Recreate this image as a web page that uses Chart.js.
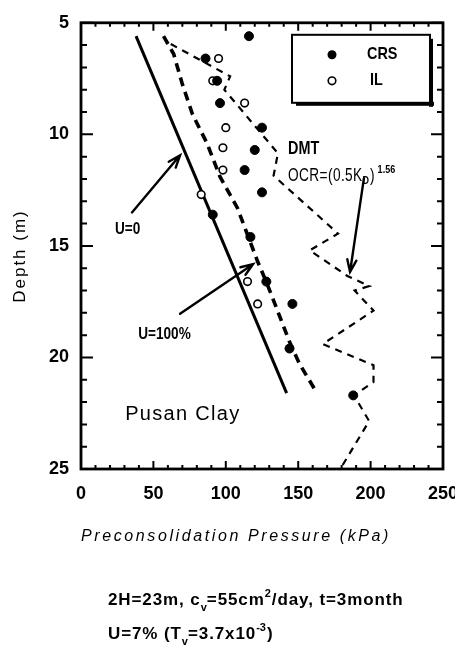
<!DOCTYPE html>
<html>
<head>
<meta charset="utf-8">
<script src="https://cdn.jsdelivr.net/npm/chart.js@4.4.1/dist/chart.umd.min.js"></script>
<style>
html,body{margin:0;padding:0;background:#fff}
#wrap{width:455px;height:648px}
</style>
</head>
<body>
<div id="wrap"><canvas id="c" width="455" height="648"></canvas></div>
<script>
// test results (depth in m, preconsolidation pressure in kPa)
var crsDepth = [5.6, 6.6, 7.6, 8.6, 9.7, 10.7, 11.6, 12.6, 13.6, 14.6, 16.6, 17.6, 19.6, 21.7];
var crsPc    = [116, 86, 94, 96, 125, 120, 113, 125, 91, 117, 128, 146, 144, 188];
var ilDepth  = [6.6, 7.6, 8.6, 9.7, 10.6, 11.6, 12.7, 16.6, 17.6];
var ilPc     = [95, 91, 113, 100, 98, 98, 83, 115, 122];

// U=0 and U=100% lines
var u0Depth = [5.6, 21.6];
var u0Pc    = [38, 142];
var u100Depth = [5.6, 6.4, 7.75, 9.1, 10.4, 11.9, 13.3, 14.5, 15.7, 16.7, 17.95, 19.3, 20.3, 21.6];
var u100Pc    = [57, 64, 70, 77, 87, 96, 108, 115, 122, 128.5, 136, 144, 151, 163];

// DMT, OCR=(0.5Kd)^1.56
var dmtDepth = [5.95, 7.4, 8.0, 10.85, 11.85, 14.45, 15.2, 16.35, 16.8, 17.0, 17.9, 19.4, 20.35, 21.1, 21.7, 22.85, 24.9];
var dmtPc    = [62, 103, 99, 136, 133, 177.5, 158, 184, 199, 189, 202, 167, 202, 202, 188.5, 199, 180];

var xTicks = [0, 50, 100, 150, 200, 250];
var yTicks = [5, 10, 15, 20, 25];

var FONT = '"Liberation Sans", Arial, sans-serif';

function pts(xs, ys){
	var out = [];
	for (var i=0;i<xs.length;i++) out.push({x:xs[i], y:ys[i]});
	return out;
}

function txt(ctx, s, x, y, size, opt){
	opt = opt || {};
	ctx.save();
	ctx.font = (opt.style||'') + ' ' + (opt.weight||'bold') + ' ' + size + 'px ' + FONT;
	ctx.letterSpacing = (opt.ls||0) + 'px';
	ctx.fillStyle = '#000';
	ctx.textBaseline = 'middle';
	ctx.textAlign = 'left';
	var sx = opt.sx || 1;
	ctx.translate(x, y);
	ctx.scale(sx, 1);
	ctx.fillText(s, 0, 0);
	var w = ctx.measureText(s).width * sx;
	ctx.restore();
	return x + w;
}

function arrow(ctx, x1, y1, x2, y2){
	var a = Math.atan2(y2-y1, x2-x1), L = 13, s = 0.36;
	ctx.save();
	ctx.strokeStyle = '#000';
	ctx.lineWidth = 2.4;
	ctx.lineCap = 'round';
	ctx.beginPath();
	ctx.moveTo(x1, y1); ctx.lineTo(x2, y2);
	ctx.moveTo(x2 - L*Math.cos(a-s), y2 - L*Math.sin(a-s));
	ctx.lineTo(x2, y2);
	ctx.lineTo(x2 - L*Math.cos(a+s), y2 - L*Math.sin(a+s));
	ctx.stroke();
	ctx.restore();
}

var decor = {
	id: 'decor',
	afterDraw: function(chart){
		var ctx = chart.ctx, ca = chart.chartArea;
		var X = chart.scales.x, Y = chart.scales.y;
		function px(v){ return X.getPixelForValue(v); }
		function py(v){ return Y.getPixelForValue(v); }

		ctx.save();
		ctx.strokeStyle = '#000';
		// inward ticks on all four sides
		ctx.lineWidth = 2;
		ctx.beginPath();
		for (var v=0; v<=250; v+=10){
			var l = (v%50==0) ? 8 : 4;
			ctx.moveTo(px(v), ca.bottom); ctx.lineTo(px(v), ca.bottom-l);
			ctx.moveTo(px(v), ca.top); ctx.lineTo(px(v), ca.top+l);
		}
		for (var d=5; d<=25; d+=1){
			var m = (d%5==0) ? 12 : 6;
			ctx.moveTo(ca.left, py(d)); ctx.lineTo(ca.left+m, py(d));
			ctx.moveTo(ca.right, py(d)); ctx.lineTo(ca.right-m, py(d));
		}
		ctx.stroke();
		// frame
		ctx.lineWidth = 2.8;
		ctx.strokeRect(ca.left, ca.top, ca.right-ca.left, ca.bottom-ca.top);

		// legend box
		var bx = ca.left + 211, by = ca.top + 12, bw = 138, bh = 68;
		ctx.fillStyle = '#000';
		ctx.fillRect(bx+4, by+bh-1, bw, 4);
		ctx.fillRect(bx+bw-1, by+4, 4, bh);
		ctx.fillStyle = '#fff';
		ctx.fillRect(bx, by, bw, bh);
		ctx.lineWidth = 2;
		ctx.strokeRect(bx, by, bw, bh);
		ctx.fillStyle = '#000';
		ctx.beginPath(); ctx.arc(bx+40, by+20, 4.5, 0, Math.PI*2); ctx.fill();
		ctx.lineWidth = 1.6;
		ctx.beginPath(); ctx.arc(bx+40, by+46, 3.8, 0, Math.PI*2); ctx.stroke();
		ctx.restore();
		txt(ctx, 'CRS', bx+75, by+20, 17, {sx:0.85});
		txt(ctx, 'IL', bx+78, by+46, 17, {sx:0.85});

		// annotations
		txt(ctx, 'DMT', px(143), py(10.65), 18, {sx:0.8});
		var e = txt(ctx, 'OCR=(0.5K', px(143), py(11.85), 18, {sx:0.76, weight:'normal', ls:0.5});
		e = txt(ctx, 'D', e, py(11.85)+6, 10, {sx:0.9});
		e = txt(ctx, ')', e+1, py(11.85), 18, {sx:0.76, weight:'normal'});
		txt(ctx, '1.56', e+3, py(11.85)-5, 10, {sx:0.9});

		txt(ctx, 'U=0', px(23.5), py(14.25), 16, {sx:0.85});
		txt(ctx, 'U=100%', px(39.5), py(18.97), 16, {sx:0.85});
		txt(ctx, 'Pusan Clay', px(30.5), py(22.55), 20, {weight:'normal', ls:1.3});

		arrow(ctx, px(35.2), py(13.5), px(68.4), py(10.94));
		arrow(ctx, px(68.4), py(18.04), px(118.8), py(15.82));
		arrow(ctx, px(195.4), py(11.96), px(185.8), py(16.17));

		// axis titles
		ctx.save();
		ctx.translate(20, 256);
		ctx.rotate(-Math.PI/2);
		ctx.font = 'normal 17px ' + FONT;
		ctx.letterSpacing = '2px';
		ctx.textAlign = 'center';
		ctx.textBaseline = 'middle';
		ctx.fillStyle = '#000';
		ctx.fillText('Depth (m)', 0, 0);
		ctx.restore();

		txt(ctx, 'Preconsolidation Pressure (kPa)', 81, 537, 16, {style:'italic', weight:'normal', ls:2.6});

		// consolidation parameters
		var y1 = 600, y2 = 634;
		e = txt(ctx, '2H=23m, c', 108, y1, 17, {ls:0.9});
		e = txt(ctx, 'v', e, y1+8, 11);
		e = txt(ctx, '=55cm', e, y1, 17, {ls:0.9});
		e = txt(ctx, '2', e, y1-6, 11);
		txt(ctx, '/day, t=3month', e+1, y1, 17, {ls:0.9});
		e = txt(ctx, 'U=7% (T', 108, y2, 17, {ls:0.9});
		e = txt(ctx, 'v', e, y2+8, 11);
		e = txt(ctx, '=3.7x10', e, y2, 17, {ls:0.9});
		e = txt(ctx, '-3', e, y2-6, 11);
		txt(ctx, ')', e+1, y2, 17);
	}
};

var chart = new Chart(document.getElementById('c'), {
	type: 'scatter',
	data: {
		datasets: [
			{ label: 'CRS', data: pts(crsPc, crsDepth), pointRadius: 4.5, pointBackgroundColor: '#000', pointBorderColor: '#000', borderWidth: 1 },
			{ label: 'IL', data: pts(ilPc, ilDepth), pointRadius: 3.8, pointBackgroundColor: '#fff', pointBorderColor: '#000', pointBorderWidth: 1.6 },
			{ label: 'U=0', data: pts(u0Pc, u0Depth), showLine: true, borderColor: '#000', borderWidth: 3, pointRadius: 0 },
			{ label: 'U=100%', data: pts(u100Pc, u100Depth), showLine: true, borderColor: '#000', borderWidth: 3.6, borderDash: [9, 6], pointRadius: 0 },
			{ label: 'DMT', data: pts(dmtPc, dmtDepth), showLine: true, borderColor: '#000', borderWidth: 2.2, borderDash: [7, 6], pointRadius: 0 }
		]
	},
	options: {
		responsive: false,
		animation: false,
		events: [],
		layout: { padding: { left: 0, top: 18, right: 12, bottom: 139 } },
		plugins: { legend: { display: false }, tooltip: { enabled: false } },
		scales: {
			x: {
				type: 'linear', min: 0, max: 250,
				afterBuildTicks: function(s){ s.ticks = xTicks.map(function(v){ return {value: v}; }); },
				afterFit: function(s){ s.height = 40; s.paddingLeft = 0; s.paddingRight = 0; },
				grid: { display: false, drawTicks: false },
				border: { display: false },
				ticks: { padding: 14, color: '#000', font: { family: FONT, size: 18, weight: 'bold' } }
			},
			y: {
				type: 'linear', min: 5, max: 25, reverse: true,
				afterBuildTicks: function(s){ s.ticks = yTicks.map(function(v){ return {value: v}; }); },
				afterFit: function(s){ s.width = 81; },
				grid: { display: false, drawTicks: false },
				border: { display: false },
				ticks: { padding: 12, color: '#000', font: { family: FONT, size: 18, weight: 'bold' } }
			}
		}
	},
	plugins: [decor]
});
</script>
</body>
</html>
